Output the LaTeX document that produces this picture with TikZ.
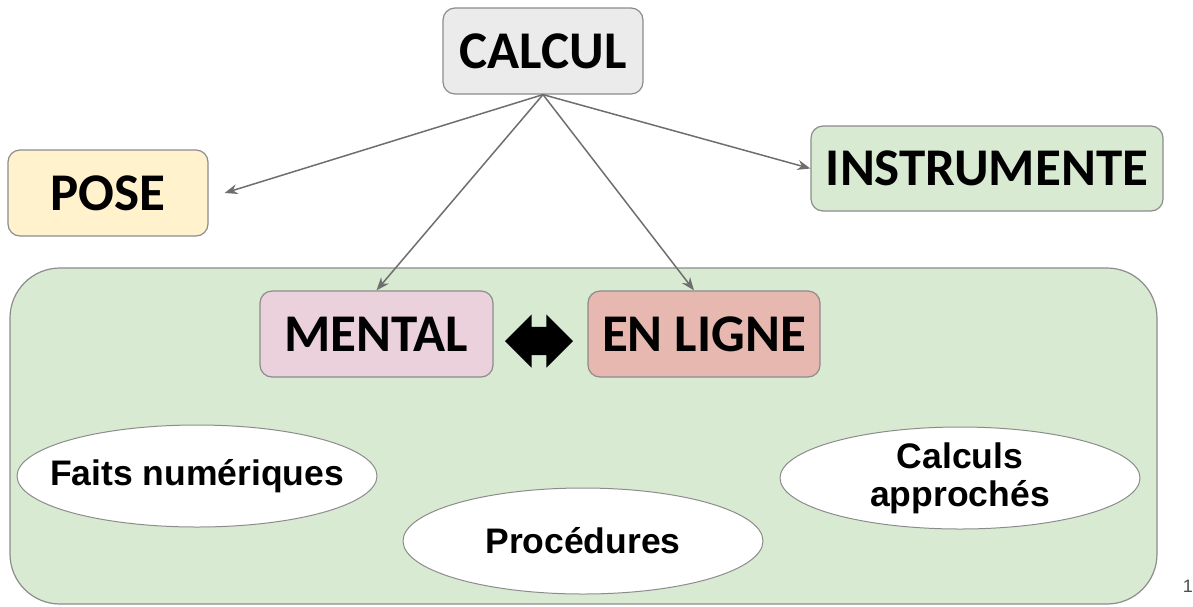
\documentclass[tikz,border=0pt]{standalone}
\usepackage{fontspec}
\setmainfont{Liberation Sans}
\newfontfamily\boxfont{Carlito}
\usetikzlibrary{arrows.meta,shapes.geometric,shapes.arrows}

\definecolor{linegray}{HTML}{8C8C8C}
\definecolor{arrowgray}{HTML}{6E6E6E}
\definecolor{calculfill}{HTML}{EBEBEB}
\definecolor{posefill}{HTML}{FFF2CC}
\definecolor{greenfill}{HTML}{D9EAD3}
\definecolor{mentalfill}{HTML}{EAD1DC}
\definecolor{lignefill}{HTML}{E6B8AF}

\begin{document}
\begin{tikzpicture}[x=1pt,y=-1pt,
	box/.style={rectangle,rounded corners=12pt,draw=linegray,line width=1.2pt,minimum height=86pt,inner sep=0pt,font=\boxfont\bfseries\fontsize{53}{60}\selectfont},
	bubble/.style={ellipse,draw=linegray,line width=1pt,fill=white,inner xsep=-45pt,inner ysep=-12pt,minimum width=360pt,minimum height=102pt,align=center,font=\bfseries\fontsize{35.5}{38}\selectfont},
	link/.style={draw=arrowgray,line width=1.5pt,-{Stealth[length=13pt,width=10pt]}}]
		\useasboundingbox (0,0) rectangle (1193,606);
%		\draw[help lines,step=50] (0,0) grid (1193,606);
		\path[draw=linegray,line width=1.2pt,fill=greenfill,rounded corners=50pt] (10,268) rectangle (1157,604);

		\path (543,51) node(calcul) [box,fill=calculfill,minimum width=200pt] {CALCUL};
		\path (108,193) node(pose) [box,fill=posefill,minimum width=200pt] {POSE};
		\path (987,168.5) node(instrumente) [box,fill=greenfill,minimum width=352pt,minimum height=85pt] {INSTRUMENTE};
		\path (376.5,334) node(mental) [box,fill=mentalfill,minimum width=233pt] {MENTAL};
		\path (704,334) node(enligne) [box,fill=lignefill,minimum width=232pt] {EN LIGNE};
		\path (539,341) node(swap) [double arrow,fill=black,inner sep=14pt,double arrow head extend=12.5pt,minimum height=68pt] {};

		\path (197,476) node(faits) [bubble] {Faits numériques};
		\path (583,541) node(procedures) [bubble,minimum height=106pt] {Procédures};
		\path (960,478) node(approches) [bubble] {Calculs\\approchés};

		\draw[link] (calcul.south) -- ([xshift=16pt]pose.east);
		\draw[link] (calcul.south) -- (mental.north);
		\draw[link] (calcul.south) -- ([xshift=-10pt]enligne.north);
		\draw[link] (calcul.south) -- (instrumente.west);

		\path (1193,586) node(pagenum) [anchor=east,inner sep=0pt,text=black!70,font=\fontsize{18}{20}\selectfont] {1};
\end{tikzpicture}
\end{document}
